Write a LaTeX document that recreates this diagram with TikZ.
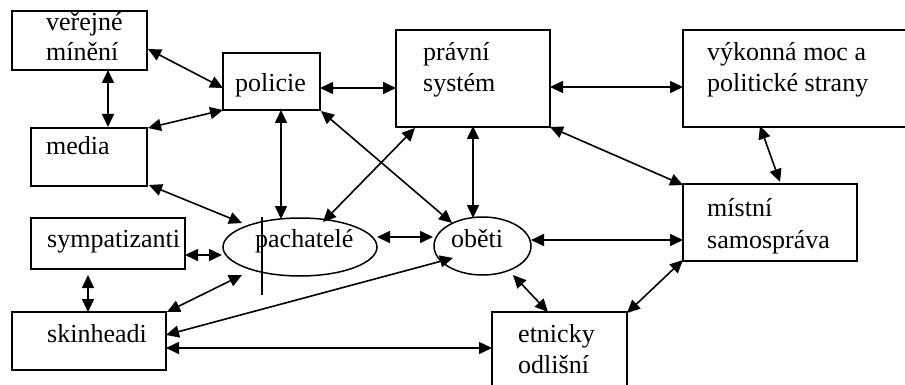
\documentclass[tikz,border=0pt]{standalone}
\usepackage{fontspec}
\setmainfont{Liberation Serif}
\usetikzlibrary{arrows.meta,calc,shapes.geometric}
\begin{document}
\begin{tikzpicture}[x=1pt,y=-1pt,
  box/.style={draw,line width=1.5pt,rectangle,inner sep=0pt},
  oval/.style={draw,line width=1.5pt,ellipse,inner sep=0pt},
  txt/.style={anchor=base west,inner sep=0pt,font=\fontsize{26}{31}\selectfont},
  link/.style={line width=1.6pt,{Triangle[length=13pt,width=12pt]}-{Triangle[length=13pt,width=12pt]}},
  mark line/.style={line width=1.7pt}
]
\useasboundingbox (0,0) rectangle (905,385);
\clip (0,0) rectangle (905,385);
% boxes
\node[box,minimum width=135pt,minimum height=59pt] (vm) at (79.5,40.5) {};
\node[box,minimum width=97pt,minimum height=57pt] (pol) at (271.5,81.5) {};
\node[box,minimum width=116pt,minimum height=58pt] (med) at (89,157) {};
\node[box,minimum width=154pt,minimum height=97pt] (pr) at (473,78.5) {};
\node[box,minimum width=227pt,minimum height=97pt] (vyk) at (796.5,78.5) {};
\node[box,minimum width=174pt,minimum height=77pt] (mis) at (770,222.5) {};
\node[box,minimum width=135pt,minimum height=88pt] (etn) at (559.5,356) {};
\node[box,minimum width=154pt,minimum height=51pt] (sym) at (108,243.5) {};
\node[box,minimum width=154pt,minimum height=58pt] (skin) at (89,341) {};
\node[oval,minimum width=154pt,minimum height=58pt] (pach) at (300,247) {};
\node[oval,minimum width=97pt,minimum height=58pt] (obe) at (482.5,246) {};
% texts
\node[txt] (tvm1) at (46,31) {veřejné};
\node[txt] (tvm2) at (46,61) {mínění};
\node[txt] (tpol) at (235,92) {policie};
\node[txt] (tmed) at (46,155) {media};
\node[txt] (tpr1) at (423,61) {právní};
\node[txt] (tpr2) at (423,92) {systém};
\node[txt] (tvyk1) at (707,61) {výkonná moc a};
\node[txt] (tvyk2) at (707,92) {politické strany};
\node[txt] (tmis1) at (707,216) {místní};
\node[txt] (tmis2) at (707,248) {samospráva};
\node[txt] (tetn1) at (518,342) {etnicky};
\node[txt] (tetn2) at (518,373) {odlišní};
\node[txt] (tsym) at (47,247) {sympatizanti};
\node[txt] (tskin) at (47,342) {skinheadi};
\node[txt] (tpach) at (255,247) {pachatelé};
\node[txt] (tobe) at (451,247) {oběti};
% connectors
\draw[link] ($(vm)+(68.5,8.5)$) -- ($(pol)+(-48.5,6.5)$);
\draw[link] ($(vm)+(28.5,29.5)$) -- ($(med)+(19,-30)$);
\draw[link] ($(med)+(59,-29)$) -- ($(pol)+(-48.5,28.5)$);
\draw[link] ($(pol)+(48.5,6.5)$) -- ($(pr)+(-77,9.5)$);
\draw[link] ($(pr)+(77,8.5)$) -- ($(vyk)+(-113.5,8.5)$);
\draw[link] ($(med)+(60,28)$) -- ($(pach)+(-58,-24)$);
\draw[link] ($(pol)+(9.5,28.5)$) -- ($(pach)+(-19,-28)$);
\draw[link] ($(pol)+(49.5,29.5)$) -- ($(obe)+(-30.5,-23)$);
\draw[link] ($(pach)+(23,-25)$) -- ($(pr)+(-58,49.5)$);
\draw[link] ($(pach)+(77,-10)$) -- ($(obe)+(-49.5,-9)$);
\draw[link] ($(sym)+(77,11.5)$) -- ($(pach)+(-78,8)$);
\draw[link] ($(sym)+(-20,31.5)$) -- ($(skin)+(-1,-29)$);
\draw[link] ($(skin)+(78,-29)$) -- ($(pach)+(-58,28)$);
\draw[link] ($(skin)+(77,-6)$) -- ($(obe)+(-29.5,12)$);
\draw[link] ($(skin)+(77,7)$) -- ($(etn)+(-67.5,-8)$);
\draw[link] ($(obe)+(30.5,29)$) -- ($(etn)+(-11.5,-44)$);
\draw[link] ($(obe)+(48.5,-6)$) -- ($(mis)+(-87,17.5)$);
\draw[link] ($(mis)+(-87,37.5)$) -- ($(etn)+(67.5,-43)$);
\draw[link] ($(pr)+(77,48.5)$) -- ($(mis)+(-87,-37.5)$);
\draw[link] ($(vyk)+(-36.5,47.5)$) -- ($(mis)+(10,-40.5)$);
\draw[link] ($(pr)+(0,47.5)$) -- ($(obe)+(-9.5,-28)$);
% vertical stroke through pachatelé
\draw[mark line] ($(pach)+(-38,-30)$) -- ($(pach)+(-38,48)$);
\end{tikzpicture}
\end{document}
